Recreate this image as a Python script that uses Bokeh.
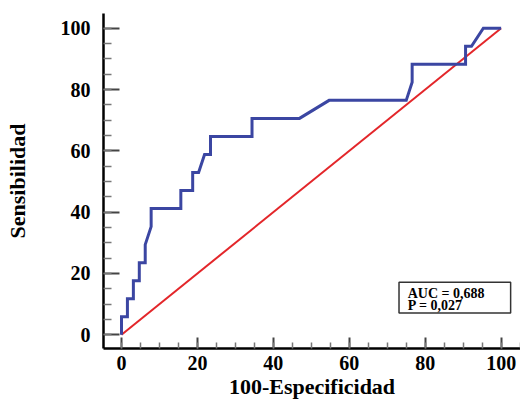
from bokeh.plotting import figure
from bokeh.models import Range1d, Label, BoxAnnotation, FixedTicker
from bokeh.embed import file_html
from bokeh.resources import INLINE

# ROC curve (100-Especificidad, Sensibilidad)
fpr = [0, 0, 1.56, 1.56, 3.13, 3.13, 4.69, 4.69, 6.25, 6.25, 7.81, 7.81,
       15.63, 15.63, 18.75, 18.75, 20.31, 21.88, 23.44, 23.44, 34.38, 34.38,
       46.88, 54.69, 75.0, 76.56, 76.56, 90.63, 90.63, 92.19, 95.31, 100]
tpr = [0, 5.88, 5.88, 11.76, 11.76, 17.65, 17.65, 23.53, 23.53, 29.41, 35.29, 41.18,
       41.18, 47.06, 47.06, 52.94, 52.94, 58.82, 58.82, 64.71, 64.71, 70.59,
       70.59, 76.47, 76.47, 82.35, 88.24, 88.24, 94.12, 94.12, 100, 100]
diag_x = [0, 100]
diag_y = [0, 100]
ticks = [0, 20, 40, 60, 80, 100]
auc_text = "AUC = 0,688"
p_text = "P = 0,027"

p = figure(width=520, height=401, output_backend="svg", toolbar_location=None,
           x_range=Range1d(-4.74, 105.1), y_range=Range1d(-4.47, 104.8),
           min_border_left=103, min_border_right=0, min_border_top=13, min_border_bottom=53)
p.outline_line_color = None
p.xgrid.visible = False
p.ygrid.visible = False
p.background_fill_color = "white"
p.border_fill_color = "white"

p.line(diag_x, diag_y, line_color="#E3262A", line_width=2)
p.line(fpr, tpr, line_color="#3B46A2", line_width=3, line_join="miter")

font = "Liberation Serif"
for ax, tin, min_in in ((p.xaxis[0], 11, 6), (p.yaxis[0], 16, 8)):
    ax.ticker = FixedTicker(ticks=ticks, minor_ticks=[i for i in range(-5, 106, 5)])
    ax.axis_line_color = "black"
    ax.axis_line_width = 2.5
    ax.major_tick_in = tin
    ax.major_tick_out = 0
    ax.minor_tick_in = min_in
    ax.minor_tick_out = 0
    ax.major_tick_line_color = "#444444"
    ax.major_tick_line_width = 2
    ax.minor_tick_line_color = "#777777"
    ax.minor_tick_line_width = 1.5
    ax.major_label_text_font = font
    ax.major_label_text_font_style = "bold"
    ax.major_label_text_font_size = "20px"
    ax.major_label_text_color = "black"
    ax.axis_label_text_font = font
    ax.axis_label_text_font_style = "bold"
    ax.axis_label_text_font_size = "22px"
    ax.axis_label_text_color = "black"

p.xaxis.axis_label = "100-Especificidad"
p.yaxis.axis_label = "Sensibilidad"
p.xaxis.major_label_standoff = 7
p.yaxis.major_label_standoff = 13
p.xaxis.axis_label_standoff = 1
p.yaxis.axis_label_standoff = 28

box = BoxAnnotation(left=73.1, right=102.5, bottom=7.1, top=17.1,
                    fill_color="white", fill_alpha=1.0,
                    line_color="#333333", line_width=1.5, line_alpha=1.0)
p.add_layout(box)
p.add_layout(Label(x=75.4, y=13.4, text=auc_text, text_font=font, text_font_style="bold",
                   text_font_size="14px", text_baseline="middle", text_color="black"))
p.add_layout(Label(x=75.4, y=9.6, text=p_text, text_font=font, text_font_style="bold",
                   text_font_size="14px", text_baseline="middle", text_color="black"))

open("out.html", "w").write(file_html(p, INLINE))
